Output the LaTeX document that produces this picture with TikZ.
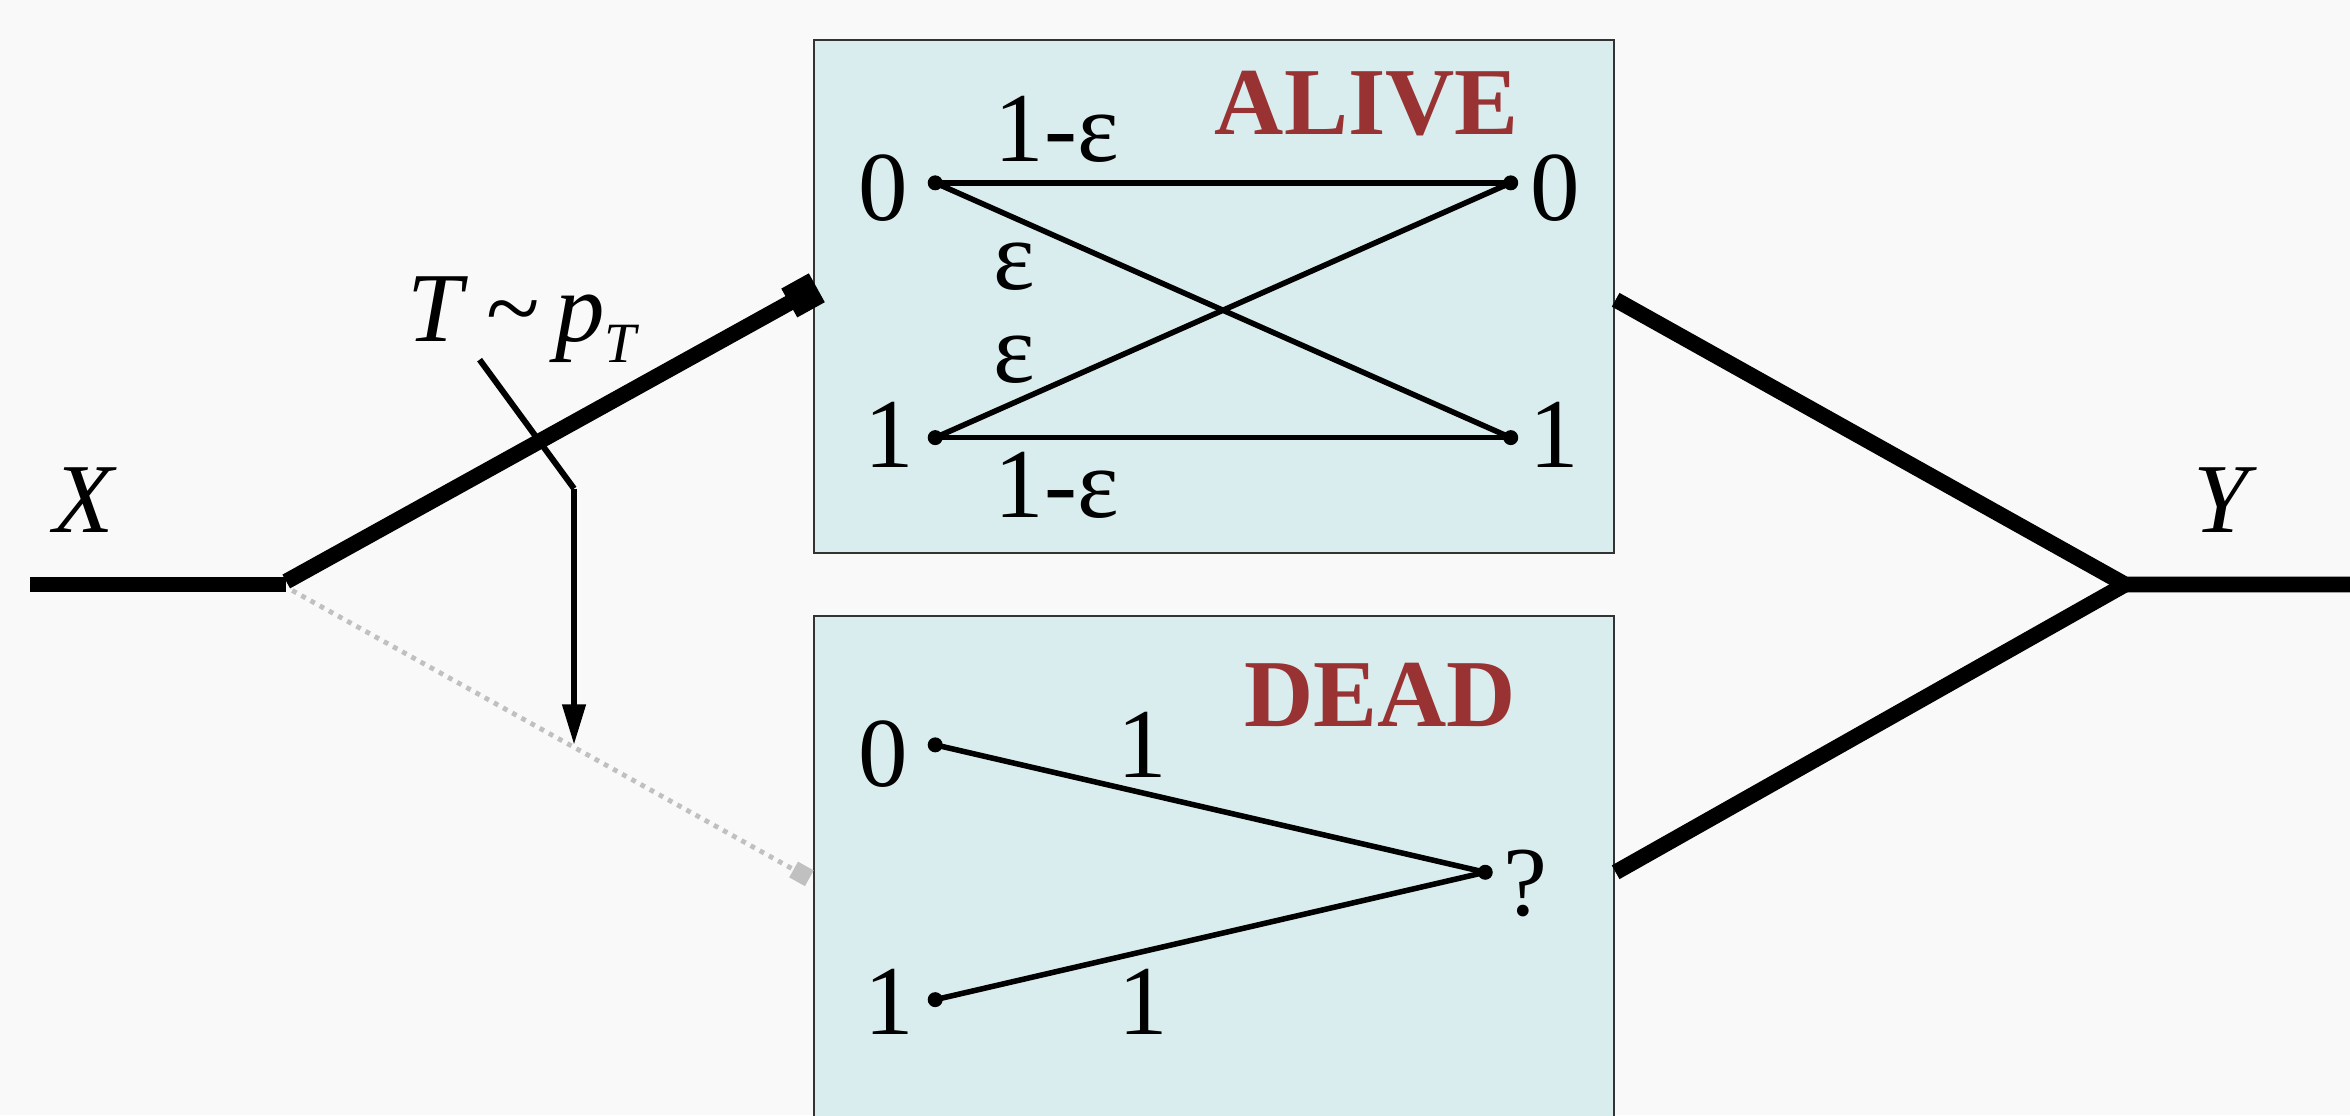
\documentclass[tikz,border=0pt]{standalone}
\usepackage{fontspec}
\setmainfont{Liberation Serif}
\usetikzlibrary{arrows.meta}
\definecolor{bg}{HTML}{F9F9F9}
\definecolor{boxfill}{HTML}{D9EDEE}
\definecolor{darkred}{HTML}{993333}
\definecolor{dotgray}{HTML}{C0C0C0}
\begin{document}
\begin{tikzpicture}[x=1pt,y=-1pt,
  lbl/.style={inner sep=0pt, anchor=base, font=\fontsize{66}{70}\selectfont},
  title/.style={inner sep=0pt, anchor=base, text=darkred, font=\fontsize{64}{70}\selectfont\bfseries},
  dot/.style={circle, fill=black, inner sep=0pt, minimum size=10pt},
  chan/.style={line width=3.7pt},
  wire/.style={line width=10.5pt},
  timer/.style={line width=4pt},
  chbox/.style={fill=boxfill, draw=black!80, line width=1.3pt}
]
% background and bounding box
\fill[bg] (0,0) rectangle (1568,744);
\useasboundingbox (0,0) rectangle (1568,744);

% boxes
\draw[chbox] (543,27) rectangle (1077,369);
\fill[boxfill] (543,411) rectangle (1077,746);
\draw[black!80, line width=1.3pt] (543,746) -- (543,411) -- (1077,411) -- (1077,746);

% coordinates for wires
\coordinate (xin) at (20,390);
\coordinate (xend) at (191,390);
\coordinate (split) at (191,388);
\coordinate (alivein) at (545,192);
\coordinate (dsplit) at (195,394);
\coordinate (deadin) at (540,586);
\coordinate (aliveout) at (1078,200);
\coordinate (deadout) at (1078,582);
\coordinate (merge) at (1418,390);
\coordinate (yout) at (1568,390);
\coordinate (tstart) at (320,240);
\coordinate (tbend) at (383,326);
\coordinate (tend) at (383,497);

% input wires
\draw[dotgray, line width=3.2pt, dash pattern=on 3.2pt off 3.8pt, -{Square[length=12pt,width=12pt]}] (dsplit) -- (deadin);
\draw[wire] (xin) -- (xend);
\draw[wire, -{Square[length=21pt,width=22pt]}] (split) -- (alivein);
% timer
\draw[timer] (tstart) -- (tbend);
\draw[timer, -{Triangle[length=27pt,width=15pt]}] (tbend) -- (tend);
% output wires
\draw[wire] (aliveout) -- (merge) -- (yout);
\draw[wire] (deadout) -- (merge);

% labels outside
\node[lbl] (xl) at (57,355) {\textit{X}};
\node[lbl] (yl) at (1485,355) {\textit{Y}};
\node[lbl, anchor=base west] (tl) at (272,228) {\textit{T}\hspace{12pt}\textasciitilde\hspace{10pt}\textit{p}\raisebox{-14pt}{\fontsize{38}{40}\selectfont\textit{T}}};

% ALIVE channel
\node[dot] (a0) at (624,122) {};
\node[dot] (b0) at (1008,122) {};
\node[dot] (a1) at (624,292) {};
\node[dot] (b1) at (1008,292) {};
\draw[chan] (a0.center) -- (b0.center);
\draw[chan] (a1.center) -- (b1.center);
\draw[chan] (a0.center) -- (b1.center);
\draw[chan] (a1.center) -- (b0.center);
\node[lbl] (a0l) at (589,147) {0};
\node[lbl] (b0l) at (1038,147) {0};
\node[lbl] (a1l) at (593,312) {1};
\node[lbl] (b1l) at (1037,312) {1};
\node[lbl] (p00) at (705,108) {1-ε};
\node[lbl] (p01) at (677,193) {ε};
\node[lbl] (p10) at (677,255) {ε};
\node[lbl] (p11) at (705,345) {1-ε};
\node[title] (alive) at (912,90) {ALIVE};

% DEAD channel
\node[dot] (c0) at (624,497) {};
\node[dot] (c1) at (624,667) {};
\node[dot] (q) at (991,582) {};
\draw[chan] (c0.center) -- (q.center);
\draw[chan] (c1.center) -- (q.center);
\node[lbl] (c0l) at (589,525) {0};
\node[lbl] (c1l) at (593,690) {1};
\node[lbl] (ql) at (1018,611) {?};
\node[lbl] (d0) at (762,519) {1};
\node[lbl] (d1) at (763,690) {1};
\node[title] (dead) at (921,485) {DEAD};
\end{tikzpicture}
\end{document}
